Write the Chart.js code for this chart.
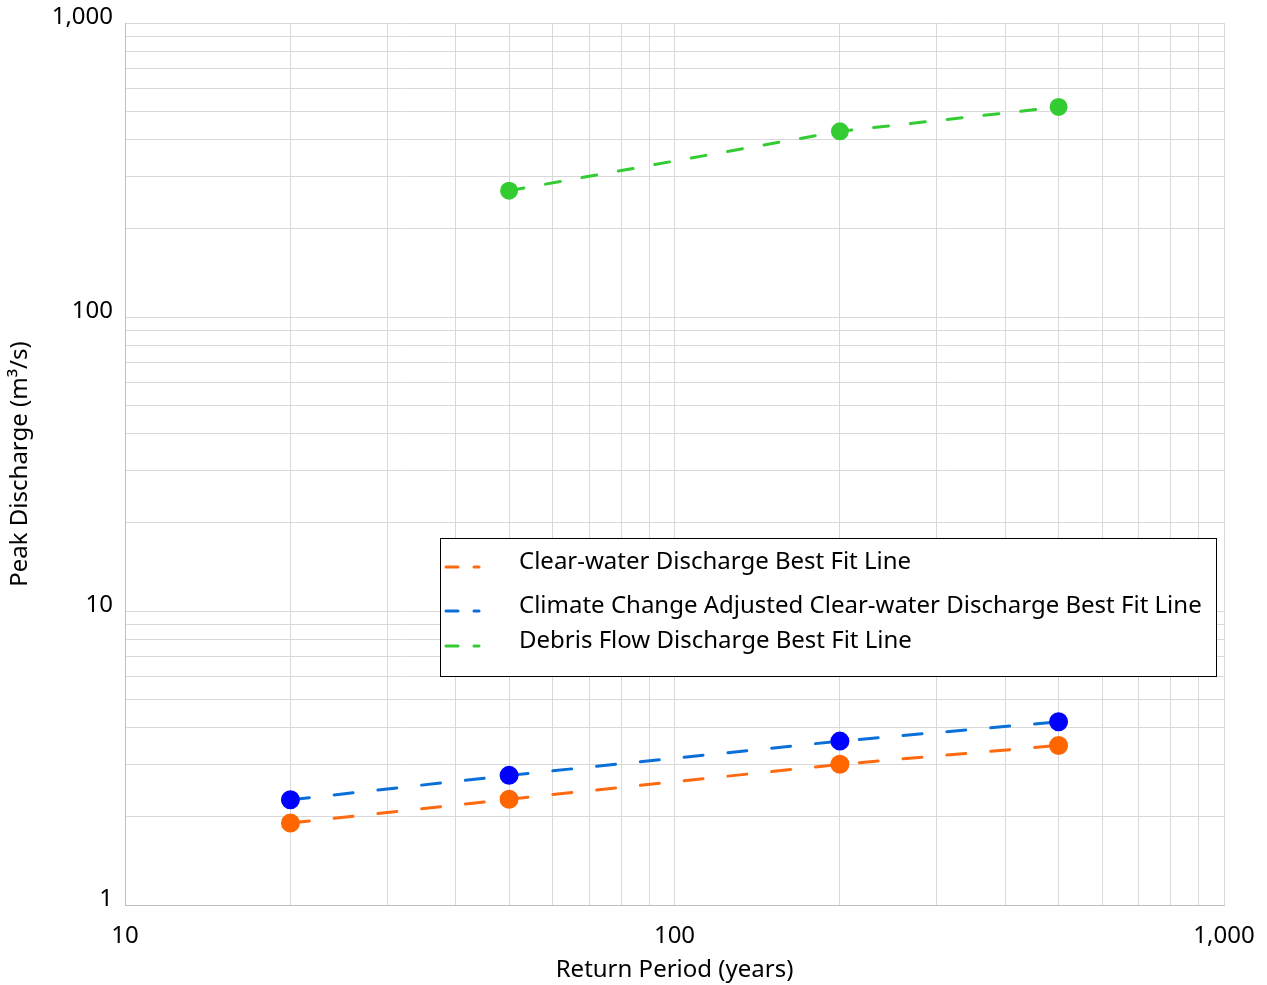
<!DOCTYPE html>
<html>
<head>
<meta charset="utf-8">
<script src="https://cdn.jsdelivr.net/npm/chart.js@4/dist/chart.umd.min.js"></script>
<style>
    html, body { margin: 0; padding: 0; background: #fff; }
    #wrap { width: 1267px; height: 985px; }
</style>
</head>
<body>
<div id="wrap"><canvas id="Chart" width="1267" height="985"></canvas></div>
<script>
// values
let returnPeriods = [20, 50, 200, 500];
let clearWater = [1.90, 2.29, 3.01, 3.49];
let climateAdjusted = [2.28, 2.76, 3.61, 4.20];
let debrisPeriods = [50, 200, 500];
let debrisFlow = [269, 428, 518];

let xTicks = [10, 20, 30, 40, 50, 60, 70, 80, 90, 100, 200, 300, 400, 500, 600, 700, 800, 900, 1000];
let yTicks = [1, 2, 3, 4, 5, 6, 7, 8, 9, 10, 20, 30, 40, 50, 60, 70, 80, 90,
              100, 200, 300, 400, 500, 600, 700, 800, 900, 1000];
let tickLabels = { 1: '1', 10: '10', 100: '100', 1000: '1,000' };

let seriesNames = [
    "Clear-water Discharge Best Fit Line",
    "Climate Change Adjusted Clear-water Discharge Best Fit Line",
    "Debris Flow Discharge Best Fit Line"
];

const FONT = "'Noto Sans', 'Open Sans', sans-serif";

function toPoints(xs, ys) {
    return xs.map(function (x, i) { return { x: x, y: ys[i] }; });
}

// legend drawn as a box inside the plot, like the original
let boxLegend = {
    id: 'boxLegend',
    afterDraw: function (chart) {
        let ctx = chart.ctx;
        let box = { x: 440.5, y: 538.5, w: 776, h: 138 };
        let rows = [562, 606, 641];
        ctx.save();
        ctx.fillStyle = '#fff';
        ctx.fillRect(box.x, box.y, box.w, box.h);
        ctx.strokeStyle = '#000';
        ctx.lineWidth = 1;
        ctx.strokeRect(box.x, box.y, box.w, box.h);
        chart.data.datasets.forEach(function (ds, i) {
            let y = rows[i] + 5;
            ctx.strokeStyle = ds.borderColor;
            ctx.lineWidth = 3;
            ctx.lineCap = 'round';
            ctx.beginPath();
            ctx.moveTo(446, y); ctx.lineTo(458, y);
            ctx.moveTo(474, y); ctx.lineTo(479, y);
            ctx.stroke();
            ctx.fillStyle = '#000';
            ctx.font = '24px ' + FONT;
            ctx.textBaseline = 'middle';
            ctx.textAlign = 'left';
            ctx.fillText(ds.label, 519, rows[i]);
        });
        ctx.restore();
    }
};

let config = {
    type: 'line',
    data: {
        datasets: [{
            label: seriesNames[0],
            data: toPoints(returnPeriods, clearWater),
            borderColor: '#FF6A10',
            borderWidth: 3,
            borderDash: [19, 25],
            borderCapStyle: 'round',
            pointBackgroundColor: '#FF6600',
            pointBorderColor: '#FF6600',
            pointRadius: 8,
            fill: false
        }, {
            label: seriesNames[1],
            data: toPoints(returnPeriods, climateAdjusted),
            borderColor: '#0A6FD8',
            borderWidth: 3,
            borderDash: [19, 25],
            borderCapStyle: 'round',
            pointBackgroundColor: '#0000FF',
            pointBorderColor: '#0000FF',
            pointRadius: 8,
            fill: false
        }, {
            label: seriesNames[2],
            data: toPoints(debrisPeriods, debrisFlow),
            borderColor: '#33CC33',
            borderWidth: 3,
            borderDash: [15, 22],
            borderCapStyle: 'round',
            pointBackgroundColor: '#33CC33',
            pointBorderColor: '#33CC33',
            pointRadius: 7.5,
            fill: false
        }]
    },
    options: {
        responsive: false,
        animation: false,
        layout: { padding: { top: 23, right: 43, left: 0, bottom: 0 } },
        plugins: {
            legend: { display: false },
            tooltip: { enabled: false }
        },
        scales: {
            x: {
                type: 'logarithmic',
                min: 10,
                max: 1000,
                afterBuildTicks: function (scale) {
                    scale.ticks = xTicks.map(function (v) { return { value: v }; });
                },
                afterFit: function (scale) {
                    scale.height = 80;
                    scale.paddingLeft = 0;
                    scale.paddingRight = 0;
                },
                grid: { color: '#D9D9D9', lineWidth: 1, drawTicks: false },
                border: { color: '#BFBFBF' },
                ticks: {
                    autoSkip: false,
                    maxRotation: 0,
                    padding: 17,
                    color: '#000',
                    font: { family: FONT, size: 24 },
                    callback: function (v) { return tickLabels[v] || ''; }
                },
                title: {
                    display: true,
                    text: 'Return Period (years)',
                    color: '#000',
                    font: { family: FONT, size: 24 },
                    padding: { top: 6, bottom: 0 }
                }
            },
            y: {
                type: 'logarithmic',
                min: 1,
                max: 1000,
                afterBuildTicks: function (scale) {
                    scale.ticks = yTicks.map(function (v) { return { value: v }; });
                },
                afterFit: function (scale) {
                    scale.width = 125;
                    scale.paddingTop = 0;
                    scale.paddingBottom = 0;
                },
                grid: { color: '#D9D9D9', lineWidth: 1, drawTicks: false },
                border: { color: '#BFBFBF' },
                ticks: {
                    autoSkip: false,
                    padding: 12,
                    labelOffset: -6,
                    color: '#000',
                    font: { family: FONT, size: 24 },
                    callback: function (v) { return tickLabels[v] || ''; }
                },
                title: {
                    display: true,
                    text: 'Peak Discharge (m³/s)',
                    color: '#000',
                    font: { family: FONT, size: 24 },
                    padding: { top: 6, bottom: 0 }
                }
            }
        }
    },
    plugins: [boxLegend]
};

window.onload = function () {
    let ctx = document.getElementById('Chart').getContext('2d');
    window.myLine = new Chart(ctx, config);
};
</script>
</body>
</html>
